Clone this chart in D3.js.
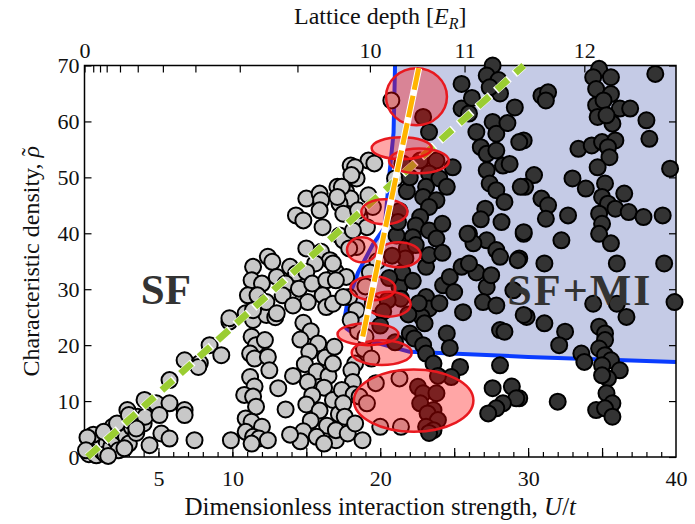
<!DOCTYPE html>
<html>
<head>
<meta charset="utf-8">
<script src="https://cdn.jsdelivr.net/npm/d3@7"></script>
<style>
  body { margin: 0; background: #fff; }
  text { font-family: "Liberation Serif", "DejaVu Serif", serif; }
</style>
</head>
<body>
<div id="chart-area"></div>
<script>
// superfluid points [U/t, rho]
const sfPoints = [
  [0.3,0.5],[0.5,1.5],[0.4,2.5],[0.8,0.3],[0.9,2],[1.2,1],[1.0,3.2],[1.5,2.5],[1.4,0.5],[1.8,1.8],
  [1.7,3.8],[2.1,3],[2.3,1.2],[2.5,4.5],[2.8,3.6],[3.0,2.4],[3.2,5.3],[3.5,4.3],[3.1,6.5],[3.6,7.2],
  [4.0,6],[2.9,8.4],[4.1,7.2],[4.06,10.2],[4.85,9.6],[5.75,9.6],[5.07,7.5],[3.5,5.1],[2.7,1.55],[4.4,2.1],
  [5.2,4.2],[5.75,3.3],[7.44,3.0],[6.77,8.4],[6.77,7.5],[5.75,13.75],[6.77,17.3],[7.8,16.8],[7.7,16.1],[8.46,20],
  [9.25,18.2],[9.8,24.2],[9.9,3.0],[1.9,5.4],[0.6,4],[1.3,4.5],[2.2,6],[0.2,3.5],[1.6,0.2],[0.1,1.2],[3.0,7.5],
  [10.9,25.7],[11.4,24.5],[12.3,25.4],[12.9,25],[11.3,21.5],[11.6,20],[12.2,20.9],[11.2,18.5],[11.5,17.6],[12.4,17.9],
  [12.5,15.5],[11.2,14.3],[11.5,12.6],[13.1,12.3],[10.8,11.1],[11.4,10.8],[11.6,9.0],[10.9,6.9],[11.3,6.3],[12.0,5.4],
  [10.9,4.5],[11.4,3.6],[11.8,3.3],[12.4,3.0],[11.3,2.4],
  [19.2,53],[18.0,52.1],[18.2,50.7],[18.4,49.8],[17.1,48.3],[17.7,47.4],[18.0,46.2],[19.2,46.8],[19.5,44.7],[15.0,46.2],
  [15.9,47.1],[16.0,45.9],[15.9,44.1],[14.3,43.2],[14.8,42.3],[16.1,41.1],[17.25,45.3],[17.5,43.5],[18.6,42.9],[19.1,41.1],
  [17.25,39.6],[17.5,38.75],[18.4,37.55],[15.0,37.3],[16.0,36.7],[16.6,35.2],[15.6,34.6],[17.0,33.1],[17.7,32.2],[12.4,35.8],
  [12.7,34.9],[11.4,34],[13.9,34],[14.3,32.8],[15.0,33.1],[11.3,31.6],[12.0,31.0],[13.0,32.2],[13.6,31.0],[14.5,30.1],
  [15.4,31],[16.35,31.6],[17.0,31.6],[16.1,28.9],[11.05,28.9],[11.7,28.9],[12.3,27.7],[13.4,28.9],[15.1,27.7],[11.4,26.25],
  [9.8,24.8],[13.0,25.7],[14.1,27.1],[16.35,26.8],[17.9,28.6],[18.4,26.25],[17.9,37.3],[18.15,40.5],
  [14.8,24],[15.3,22.5],[14.6,21],[15.8,20.3],[15.2,18.8],[16.3,17.8],[14.9,16.6],[15.7,15.3],[16.5,14.5],[15.1,13.4],
  [16.2,12.4],[15.4,11.0],[16.8,10.2],[15.0,9.4],[15.9,8.3],[17.2,7.7],[15.3,6.5],[16.4,5.6],[14.8,4.6],[15.7,3.6],
  [17.0,3.0],[16.2,2.4],[14.6,2.8],[16.8,16.7],[16.9,19.7],[16.8,27.4],[17.5,28.6],[16.8,34.6],[18.3,16.7],[18.05,15.5],
  [18.15,13.4],[17.4,12.0],[18.2,11.2],[17.5,9.6],[17.6,7.2],[17.0,4.8],[17.8,4.2],[18.3,6.0],[18.5,22.5],[18.0,24.5],
  [18.9,19.3],[18.6,10.8],[18.8,3.0],[19.7,13.2],[21.3,14.05],[19.1,9.6],[20.0,5.4],[21.4,5.4],[13.6,8.5],[13.9,4],[14.1,14.5],
  [20.75,63.75],[18.3,51.8],[18.05,50.4],[17.4,48.3],[17.1,46.5],[18.5,44.1],[21.0,49.8],[19.6,52.5],[19.8,35],[19.3,33],
  [19.0,30.5],[19.5,27.5],[19.0,21.5],[19.4,17.6]
];

// superfluid + Mott insulator points [U/t, rho]
const mixPoints = [
  [34.8,69.4],[34.4,67.9],[35.6,67.9],[38.6,68.5],[34.6,65.8],[35.6,64.9],[30.9,64.6],[31.35,65.2],[31.2,63.75],[34.6,62.9],
  [35.1,63.75],[36.2,62.3],[36.9,62.3],[34.7,60.8],[35.7,59.6],[35.3,61.1],[38.0,60.2],[38.2,56.9],[29.7,56.6],[33.4,55.1],
  [34.3,55.7],[35.0,56.3],[35.9,56.6],[35.4,55.4],[35.5,53.6],[34.7,51.8],[39.6,51.55],[30.4,50.4],[33.0,49.8],[29.8,48.3],
  [33.9,48.0],[35.2,48.9],[35.0,46.5],[36.5,47.1],[30.9,46.2],[31.35,45],[35.4,45.3],[35.9,44.4],[34.8,43.5],[36.8,43.8],
  [37.8,42.9],[39.1,43.2],[31.2,42.6],[32.7,43.2],[35.0,41.7],[34.8,39.9],[29.7,39.9],[32.25,38.75],[35.6,38.2],[29.4,35.5],
  [31.1,34.6],[36.0,34.6],[39.2,34.6],[39.9,27.7],[29.9,25.05],[31.1,23.9],[32.5,22.4],[32.1,20],[34.4,27.4],[36.0,27.4],
  [36.65,25.05],[34.8,23.3],[35.2,22.1],[35.2,20.9],[34.8,19.4],[33.6,18.5],[33.8,17.0],[35.2,18.2],[35.6,17.3],[35.0,16.4],
  [36.2,15.5],[35.4,14.05],[35.0,14.6],[35.3,11.4],[35.7,9.6],[34.6,8.4],[35.2,8.7],[35.7,7.2],[29.4,10.5],[32.0,9.9],
  [25.5,66.7],[27.6,70],[27.2,68.2],[28.0,67.4],[28.1,65],[27.4,66.1],[25.5,62.3],[26.0,61.4],[26.5,58.1],[27.6,59.9],
  [27.85,57.8],[26.8,55.4],[27.2,54.2],[27.85,54.8],[28.3,52.1],[28.75,52.4],[29.4,56.3],[27.2,51.25],[27.4,48.9],[27.85,47.7],
  [27.1,44.4],[28.4,45.6],[29.5,48.3],[29.7,40.2],[26.0,39.9],[27.2,38.75],[26.3,38.2],[27.85,37.0],[28.1,35.8],[29.3,35.2],
  [27.2,30.4],[26.95,27.7],[27.85,27.1],[28.1,22.7],[28.4,22.4],[29.0,29.8],[29.7,25.4],[25.4,16.1],[28.1,16.4],[27.6,12.3],
  [28.9,12.6],[29.2,10.5],[28.3,9.6],[27.85,8.7],[27.3,7.8],[24.8,14.3],[26.5,33],[27.5,32.5],[28.2,42],[26.8,42.5],
  [29.1,62.5],[26.2,64.2],[28.6,59.7],
  [22.9,60.8],[23.3,58.1],[22.7,53],[23.8,53],[24.9,51.8],[23.3,50.7],[24.0,49.8],[23.1,48.3],[24.5,48.3],[22.9,46.5],
  [23.8,45.9],[23.3,44.7],[22.7,42.9],[22.4,41.4],[23.3,40.5],[24.2,41.7],[23.8,39.05],[22.2,39.3],[25.9,39.9],[21.1,39.6],
  [21.8,37.3],[22.4,37.9],[23.1,34],[23.3,36.1],[21.3,30.4],[21.4,28.3],[23.1,28.6],[23.3,26.55],[22.8,25.05],[23.0,23.9],
  [22.0,22.1],[22.3,21.2],[22.9,20],[23.1,18.5],[23.6,16.7],[24.25,30.7],[24.7,32.2],[25.5,34],[26.0,34.6],[24.5,22.1],
  [25.6,25.9],[22.55,12.55],[22.9,11.4],[23.8,11.4],[22.7,9.6],[23.6,8.4],[23.2,7.8],[23.9,6.6],[23.1,5.4],[23.6,4.8],
  [23.3,4.3],[21.5,33],[22.2,31.5],[21.7,35.5],[22.6,27.5],[21.9,25.5],[21.3,44],[21.8,47.5],[22.0,50],[21.5,52.5],
  [21.2,42],[20.8,36],[20.6,32],[20.5,28],[20.2,26],[20.0,23.5],[21.0,20.5],[24.2,36.5],[24.0,27.5],[25.0,29.5],
  [24.7,19.5],[23.9,14.5]
];

// boundary of the SF+MI region [U/t, rho]
const regionEdge = [
  [21.0,70],[20.9,58],[20.6,50],[20.3,41],[19.5,38],[18.5,33],[17.8,28],[17.6,25],[17.7,23],[18.5,21.5],
  [19.5,20.6],[22,18.8],[30,17.9],[40,17.0],[40,70]
];

// red ellipses: centre U, centre rho, half width (U), half height (rho)
const ellipseU = [22.45, 21.45, 22.62, 20.28, 18.76, 21.24, 19.5, 20.57, 19.17, 20.1, 22.26];
const ellipseRho = [64.4, 55.2, 52.95, 43.84, 37.05, 36.16, 30.18, 27.32, 21.96, 18.66, 10.09];
const ellipseRU = [2.06, 2.03, 2.03, 1.56, 1.01, 1.49, 1.52, 1.49, 2.06, 2.03, 4.04];
const ellipseRRho = [5.09, 1.96, 2.23, 2.23, 2.23, 2.23, 2.14, 2.23, 1.96, 2.23, 5.57];

// dashed guide lines
const greenLine = [[0.2, 0], [29.7, 70]];
const orangeLine = [[22.6, 69.5], [18.74, 20.6]];

// axis ticks
const xTickLabels = [5, 10, 20, 30, 40];
const xMajor = [5, 10, 15, 20, 25, 30, 35];
const yTicks = [0, 10, 20, 30, 40, 50, 60, 70];
// lattice depth 0..12 expressed in U/t
const depthPos = [0, 0.59, 1.05, 1.5, 2.4, 3.6, 5.3, 7.5, 10.5, 14.4, 19.3, 25.7, 33.8];
const depthLabels = ["0", "", "", "", "", "", "", "", "", "", "10", "11", "12"];

const MARGIN = { LEFT: 84.5, RIGHT: 19, TOP: 65.5, BOTTOM: 67 }
const WIDTH = 695 - MARGIN.LEFT - MARGIN.RIGHT
const HEIGHT = 524 - MARGIN.TOP - MARGIN.BOTTOM

const svg = d3.select("#chart-area").append("svg")
  .attr("width", 695)
  .attr("height", 524)

const g = svg.append("g")
  .attr("transform", `translate(${MARGIN.LEFT}, ${MARGIN.TOP})`)

const x = d3.scaleLinear().domain([0, 40]).range([0, WIDTH])
const y = d3.scaleLinear().domain([0, 70]).range([HEIGHT, 0])

// shaded SF+MI region
g.append("path")
  .attr("d", d3.line().x(d => x(d[0])).y(d => y(d[1]))(regionEdge))
  .attr("fill", "#c5cbe6")
  .attr("stroke", "none")
g.append("path")
  .attr("d", d3.line().x(d => x(d[0])).y(d => y(d[1]))(regionEdge.slice(0, -1)))
  .attr("fill", "none")
  .attr("stroke", "#0a3cff")
  .attr("stroke-width", 4)
  .attr("stroke-linejoin", "round")

// axes (ticks inside)
const axisStyle = sel => {
  sel.select(".domain").remove()
  sel.selectAll("line").attr("stroke", "#000").attr("stroke-width", 1.2)
  sel.selectAll("text").attr("font-size", 22).attr("fill", "#111")
    .attr("font-family", "'Liberation Serif', serif")
}

g.append("g").attr("transform", `translate(0,${HEIGHT})`)
  .call(d3.axisBottom(x).tickValues(d3.range(1, 40)).tickFormat("").tickSizeInner(-5).tickSizeOuter(0))
  .call(axisStyle)
g.append("g").attr("transform", `translate(0,${HEIGHT})`)
  .call(d3.axisBottom(x).tickValues(xMajor).tickFormat("").tickSizeInner(-9).tickSizeOuter(0))
  .call(axisStyle)
g.append("g").attr("transform", `translate(0,${HEIGHT})`)
  .call(d3.axisBottom(x).tickValues(xTickLabels).tickSize(0).tickPadding(13))
  .call(axisStyle)

g.append("g")
  .call(d3.axisLeft(y).tickValues(yTicks).tickSizeInner(-7).tickSizeOuter(0).tickPadding(5))
  .call(axisStyle)
g.append("g").attr("transform", `translate(${WIDTH},0)`)
  .call(d3.axisRight(y).tickValues(yTicks).tickFormat("").tickSizeInner(-7).tickSizeOuter(0))
  .call(axisStyle)

g.append("g")
  .call(d3.axisTop(x).tickValues(depthPos).tickFormat((d, i) => depthLabels[i]).tickSizeInner(-7).tickSizeOuter(0).tickPadding(8))
  .call(axisStyle)

g.append("rect")
  .attr("width", WIDTH).attr("height", HEIGHT)
  .attr("fill", "none").attr("stroke", "#000").attr("stroke-width", 1.5)

// points
g.selectAll(".sf").data(sfPoints).enter().append("circle")
  .attr("cx", d => x(d[0])).attr("cy", d => y(d[1])).attr("r", 8)
  .attr("fill", "#c8c8c8").attr("stroke", "#000").attr("stroke-width", 2)
g.selectAll(".mix").data(mixPoints).enter().append("circle")
  .attr("cx", d => x(d[0])).attr("cy", d => y(d[1])).attr("r", 8)
  .attr("fill", "#333333").attr("stroke", "#000").attr("stroke-width", 2)

const seg = d3.line().x(d => x(d[0])).y(d => y(d[1]))

// green dashed line
g.append("path").attr("d", seg(greenLine))
  .attr("stroke", "#fff").attr("stroke-width", 8).attr("fill", "none")
  .attr("stroke-dasharray", "18,7").attr("stroke-dashoffset", 1.5)
g.append("path").attr("d", seg(greenLine))
  .attr("stroke", "#9acd32").attr("stroke-width", 7).attr("fill", "none")
  .attr("stroke-dasharray", "15,10")

// red ellipses
g.selectAll(".ell").data(ellipseU).enter().append("ellipse")
  .attr("cx", d => x(d))
  .attr("cy", (d, i) => y(ellipseRho[i]))
  .attr("rx", (d, i) => x(ellipseRU[i]) - x(0))
  .attr("ry", (d, i) => y(0) - y(ellipseRRho[i]))
  .attr("fill", "rgba(255,0,0,0.35)")
  .attr("stroke", "#e8191f").attr("stroke-width", 2.5)

// orange dashed line
g.append("path").attr("d", seg(orangeLine))
  .attr("stroke", "#fff").attr("stroke-width", 7).attr("fill", "none")
g.append("path").attr("d", seg(orangeLine))
  .attr("stroke", "#ffb400").attr("stroke-width", 5).attr("fill", "none")
  .attr("stroke-dasharray", "22,6")

// region labels
g.append("text").attr("x", x(5.5)).attr("y", y(27.3))
  .attr("text-anchor", "middle").attr("font-size", 43).attr("font-weight", "bold")
  .attr("font-family", "'DejaVu Serif', serif").attr("fill", "#333").text("SF")
g.append("text").attr("x", x(33.5)).attr("y", y(27.1))
  .attr("text-anchor", "middle").attr("font-size", 44).attr("font-weight", "bold")
  .attr("letter-spacing", 2)
  .attr("font-family", "'DejaVu Serif', serif").attr("fill", "#333").text("SF+MI")

// axis titles
const xl = svg.append("text").attr("x", MARGIN.LEFT + WIDTH / 2).attr("y", 515)
  .attr("text-anchor", "middle").attr("font-size", 25).attr("fill", "#111")
xl.append("tspan").text("Dimensionless interaction strength, ")
xl.append("tspan").attr("font-style", "italic").text("U")
xl.append("tspan").text("/")
xl.append("tspan").attr("font-style", "italic").text("t")

const tl = svg.append("text").attr("x", MARGIN.LEFT + WIDTH / 2).attr("y", 24)
  .attr("text-anchor", "middle").attr("font-size", 24).attr("fill", "#111")
tl.append("tspan").text("Lattice depth [")
tl.append("tspan").attr("font-style", "italic").text("E")
tl.append("tspan").attr("font-style", "italic").attr("font-size", 16).attr("dy", 5).text("R")
tl.append("tspan").attr("dy", -5).text("]")

const yl = svg.append("text")
  .attr("transform", `translate(39,${MARGIN.TOP + HEIGHT / 2}) rotate(-90)`)
  .attr("text-anchor", "middle").attr("font-size", 24).attr("fill", "#111")
yl.append("tspan").text("Characteristic density,  ")
yl.append("tspan").attr("font-style", "italic").text("ρ")
yl.append("tspan").attr("dx", -10).attr("dy", -1).text("\u02DC")
</script>
</body>
</html>
